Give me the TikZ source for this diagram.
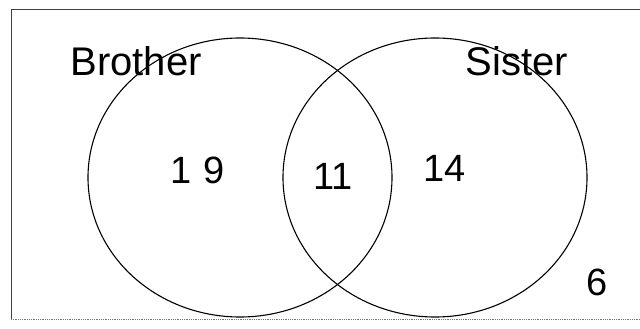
\documentclass[tikz,border=0pt]{standalone}
\usepackage{fontspec}
\setmainfont{Liberation Sans}
\begin{document}
\begin{tikzpicture}[x=1pt,y=-1pt,
  setc/.style={draw=black,line width=1.1pt},
  lbl/.style={font=\fontsize{40}{44}\selectfont,inner sep=0pt},
  num/.style={font=\fontsize{38}{40}\selectfont,inner sep=0pt}]
\useasboundingbox (0,0) rectangle (640,329);
\fill[white] (0,0) rectangle (640,329);
\draw[line width=0.8pt,black!75] (640,9) -- (11,9) -- (11,319);
\draw[line width=0.8pt,black!55,densely dotted] (11,319) -- (640,319);
\draw[setc] (240,177.5) ellipse [x radius=152, y radius=139.5];
\draw[setc] (435,177.5) ellipse [x radius=152, y radius=139.5];
\node[lbl] (brother) at (136,61) {Brother};
\node[lbl] (sister) at (517,61) {Sister};
\node[num] (b) at (198,170) {1\hspace{12pt}9};
\node[num] (bs) at (333,176) {11};
\node[num] (s) at (445,168) {14};
\node[num] (n) at (597,282) {6};
\end{tikzpicture}
\end{document}
